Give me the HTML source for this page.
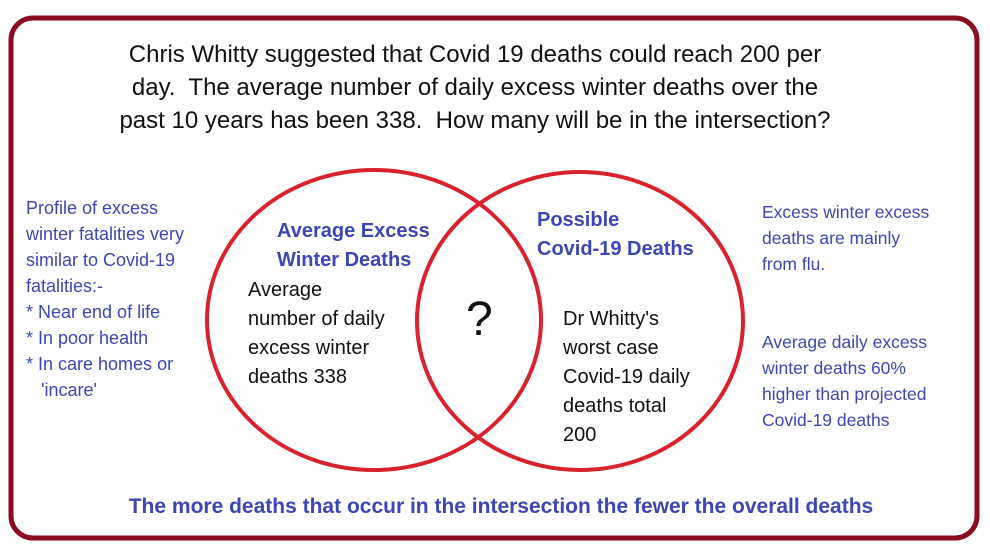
<!DOCTYPE html>
<html><head><meta charset="utf-8"><style>
body{margin:0;width:990px;height:547px;background:#fff;overflow:hidden;position:relative;font-family:"Liberation Sans","DejaVu Sans",sans-serif}
.t{position:absolute;white-space:nowrap}
.b{color:#3b47b5}
</style></head><body>
<svg width="990" height="547" style="position:absolute;left:0;top:0">
<rect x="11" y="18" width="966" height="520" rx="22" fill="none" stroke="#8a0c20" stroke-width="5"/>
<ellipse cx="374" cy="320" rx="167" ry="150" fill="none" stroke="#d8232e" stroke-width="4"/>
<ellipse cx="580" cy="321" rx="163" ry="149" fill="none" stroke="#d8232e" stroke-width="4"/>
</svg>
<div class="t" style="left:0;width:950px;top:38px;text-align:center;font-size:24px;line-height:33px;color:#111">Chris Whitty suggested that Covid 19 deaths could reach 200 per<br>day.&nbsp; The average number of daily excess winter deaths over the<br>past 10 years has been 338.&nbsp; How many will be in the intersection?</div>
<div class="t b" style="left:26px;top:195px;font-size:18px;line-height:26px">Profile of excess<br>winter fatalities very<br>similar to Covid-19<br>fatalities:-<br>* Near end of life<br>* In poor health<br>* In care homes or<br>&nbsp;&nbsp;&nbsp;'incare'</div>
<div class="t b" style="left:277px;top:217px;font-size:20px;line-height:29px;font-weight:bold">Average Excess<br>Winter Deaths</div>
<div class="t b" style="left:537px;top:206px;font-size:20px;line-height:29px;font-weight:bold">Possible<br>Covid-19 Deaths</div>
<div class="t" style="left:248px;top:276px;font-size:20px;line-height:29px;color:#111">Average<br>number of daily<br>excess winter<br>deaths 338</div>
<div class="t" style="left:563px;top:305px;font-size:20px;line-height:29px;color:#111">Dr Whitty's<br>worst case<br>Covid-19 daily<br>deaths total<br>200</div>
<div class="t" style="left:466px;top:292px;font-size:48px;color:#111">?</div>
<div class="t b" style="left:762px;top:199px;font-size:17.5px;line-height:26px">Excess winter excess<br>deaths are mainly<br>from flu.</div>
<div class="t b" style="left:762px;top:329px;font-size:17.5px;line-height:26px">Average daily excess<br>winter deaths 60%<br>higher than projected<br>Covid-19 deaths</div>
<div class="t b" style="left:0;width:1002px;top:495px;text-align:center;font-size:21px;font-weight:bold">The more deaths that occur in the intersection the fewer the overall deaths</div>
</body></html>
